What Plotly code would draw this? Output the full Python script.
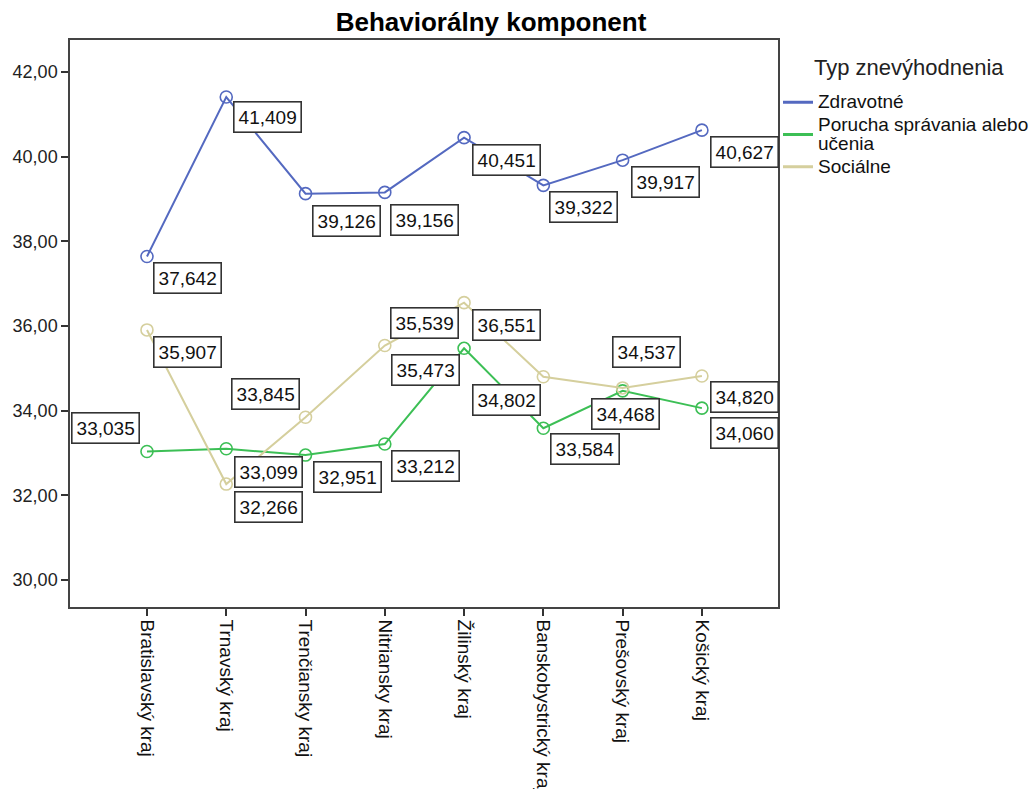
import plotly.graph_objects as go

# Regions (x-axis categories)
kraje = ["Bratislavský kraj", "Trnavský kraj", "Trenčiansky kraj", "Nitriansky kraj",
         "Žilinský kraj", "Banskobystrický kraj", "Prešovský kraj", "Košický kraj"]

# Mean scores per disadvantage type
zdravotne = [37.642, 41.409, 39.126, 39.156, 40.451, 39.322, 39.917, 40.627]
porucha = [33.035, 33.099, 32.951, 33.212, 35.473, 33.584, 34.468, 34.060]
socialne = [35.907, 32.266, 33.845, 35.539, 36.551, 34.802, 34.537, 34.820]

y_ticks = [30, 32, 34, 36, 38, 40, 42]

series = [
    ("Zdravotné", zdravotne, "#5469c0"),
    ("Porucha správania alebo<br>učenia", porucha, "#3cbf55"),
    ("Sociálne", socialne, "#d5cf9d"),
]

# Pixel offsets of each value box relative to its point
label_offsets = {
    "Zdravotné": [(41, -22), (41, -20), (41, -27), (40, -28), (42, -22), (40, -22), (43, -22), (43, -22)],
    "Porucha správania alebo<br>učenia": [(-41, 24), (42, -23), (42, -22), (41, -22), (-39, -22), (42, -21), (3, -23), (43, -25)],
    "Sociálne": [(41, -22), (42, -23), (-40, 23), (40, 23), (42, -22), (-37, -23), (24, 36), (43, -21)],
}

FONT = "Liberation Sans, Arial, sans-serif"
W, H = 1032, 789
M = dict(l=70, r=254, t=40, b=182)

fig = go.Figure()
for name, vals, color in series:
    fig.add_trace(go.Scatter(
        x=list(range(len(kraje))), y=vals, name=name, mode="lines+markers",
        line=dict(color=color, width=2), showlegend=False, legendgroup=name,
        marker=dict(symbol="circle-open", size=12, color=color, line=dict(width=1.6, color=color)),
    ))
# Legend entries drawn as plain line keys; larger text on a tighter line pitch
for name, vals, color in series:
    fig.add_trace(go.Scatter(
        x=[None], y=[None], mode="lines", legendgroup=name,
        name="<br>".join(f"<span style='font-size:19px'>{part}</span>" for part in name.split("<br>")),
        line=dict(color=color, width=3), showlegend=True,
    ))

annotations = []
for name, vals, color in series:
    for i, v in enumerate(vals):
        dx, dy = label_offsets[name][i]
        annotations.append(dict(
            x=i, y=v, xref="x", yref="y", xshift=dx, yshift=dy,
            text=f"{v:.3f}".replace(".", ","), showarrow=False,
            font=dict(family=FONT, size=19, color="#111"),
            bgcolor="white", bordercolor="#333", borderwidth=1.6, borderpad=4,
        ))

# Legend heading
annotations.append(dict(
    text="Typ znevýhodnenia", xref="paper", yref="paper",
    x=(812 - M["l"]) / (W - M["l"] - M["r"]), xanchor="left",
    y=1 + (M["t"] - 67) / (H - M["t"] - M["b"]), yanchor="middle",
    showarrow=False, font=dict(family=FONT, size=22, color="#222"),
))

plot_h = H - M["t"] - M["b"]
fig.update_layout(
    width=W, height=H,
    margin=dict(**M, autoexpand=False),
    paper_bgcolor="white", plot_bgcolor="white",
    separators=", ",
    font=dict(family=FONT, size=18, color="#111"),
    title=dict(text="<b>Behaviorálny komponent</b>", x=491 / W, xanchor="center",
               y=1 - 22 / H, yanchor="middle", font=dict(size=26, color="#000")),
    showlegend=True,
    legend=dict(
        x=1.0, xanchor="left", y=1 - (86 - M["t"]) / plot_h, yanchor="top",
        font=dict(size=15, color="#111"), bgcolor="rgba(0,0,0,0)",
        itemwidth=30, tracegroupgap=0, valign="middle",
    ),
    annotations=annotations,
)

fig.update_xaxes(
    range=[-0.971, 7.96], tickmode="array", tickvals=list(range(len(kraje))), ticktext=kraje,
    tickangle=90, ticks="outside", ticklen=7, tickwidth=1.5, tickcolor="#333",
    showline=True, linecolor="#444", linewidth=1.5, mirror=True,
    showgrid=False, zeroline=False, tickfont=dict(size=19, color="#111"),
)
fig.update_yaxes(
    range=[29.362, 42.756], tickmode="array", tickvals=y_ticks, tickformat=".2f",
    ticks="outside", ticklen=7, tickwidth=1.5, tickcolor="#333",
    showline=True, linecolor="#444", linewidth=1.5, mirror=True,
    showgrid=False, zeroline=False, tickfont=dict(size=18, color="#222"),
)

fig.write_html("out.html")
